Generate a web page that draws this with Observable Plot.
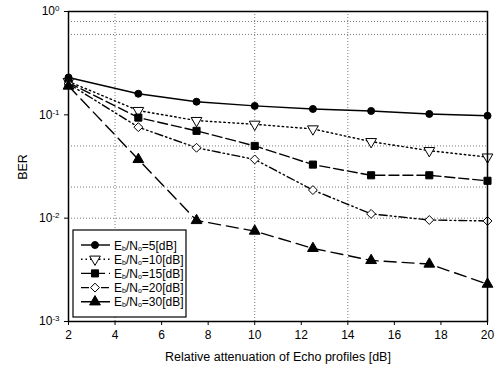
<!DOCTYPE html>
<html><head><meta charset="utf-8">
<script src="https://cdn.jsdelivr.net/npm/d3@7"></script>
<script src="https://cdn.jsdelivr.net/npm/@observablehq/plot@0.6"></script>
<style>body{margin:0;background:#fff;font-family:"Liberation Sans",Arial,sans-serif}</style>
</head><body><div id="chart"></div>
<script>
const atten = [2, 5, 7.5, 10, 12.5, 15, 17.5, 20];
const ber5  = [0.23, 0.16, 0.134, 0.122, 0.114, 0.109, 0.102, 0.098];
const ber10 = [0.21, 0.11, 0.088, 0.081, 0.073, 0.055, 0.045, 0.039];
const ber15 = [0.205, 0.094, 0.070, 0.050, 0.033, 0.026, 0.026, 0.023];
const ber20 = [0.2, 0.076, 0.048, 0.037, 0.0187, 0.011, 0.0096, 0.0094];
const ber30 = [0.19, 0.037, 0.0095, 0.0075, 0.0051, 0.0039, 0.0036, 0.0023];
const seriesNames = ["5", "10", "15", "20", "30"];
const xTicks = [2, 4, 6, 8, 10, 12, 14, 16, 18, 20];
const yTicks = [1e-3, 1e-2, 1e-1, 1];
const gridY = [0.8, 0.6, 0.05, 0.02, 0.01];
const gridX = [4, 10, 14];

const styles = {
  "5":  {dash: null, symbol: "circle", fill: "black", rotate: 0},
  "10": {dash: "1.5,3", symbol: "triangle", fill: "white", rotate: 180},
  "15": {dash: "10,4", symbol: "square", fill: "black", rotate: 0},
  "20": {dash: "8,3,1.5,3,1.5,3", symbol: "diamond2", fill: "white", rotate: 0},
  "30": {dash: "12,6", symbol: "triangle", fill: "black", rotate: 0}
};
const allSeries = [ber5, ber10, ber15, ber20, ber30];
const data = seriesNames.map((s, i) => atten.map((x, j) => ({x, y: allSeries[i][j], s})));

const marks = [
  Plot.ruleY(gridY, {stroke: "#555", strokeWidth: 0.8, strokeDasharray: "1,2"}),
  Plot.ruleX(gridX, {stroke: "#555", strokeWidth: 0.8, strokeDasharray: "1,2"})
];
seriesNames.forEach((s, i) => {
  const st = styles[s];
  marks.push(Plot.line(data[i], {x: "x", y: "y", stroke: "black", strokeWidth: 1.4, strokeDasharray: st.dash}));
});
seriesNames.forEach((s, i) => {
  const st = styles[s];
  const sym = st.symbol;
  marks.push(Plot.dot(data[i], {x: "x", y: "y", symbol: () => sym, r: sym === "circle" ? 3.5 : 4, fill: st.fill, stroke: "black", strokeWidth: 1, rotate: st.rotate}));
});
marks.push(Plot.frame({stroke: "black", strokeWidth: 1.5}));
marks.push(Plot.axisX({ticks: xTicks, tickSize: 4, tickFormat: d => String(d), label: null, fontSize: 12}));
marks.push(Plot.axisY({ticks: yTicks, tickSize: 4, tickFormat: d => "10|" + Math.round(Math.log10(d)), label: null, fontSize: 12}));

const plot = Plot.plot({
  width: 500, height: 372,
  marginLeft: 68, marginRight: 13, marginTop: 11, marginBottom: 51,
  style: {fontFamily: "Liberation Sans, Arial, sans-serif", fontSize: "12px", color: "black"},
  x: {domain: [2, 20]},
  y: {type: "log", domain: [1e-3, 1]},
  symbol: {type: "identity"},
  marks
});
document.getElementById("chart").appendChild(plot);

const svg = d3.select(plot);
// superscripts on y tick labels
svg.selectAll("text").each(function() {
  const t = d3.select(this);
  const s = t.text();
  if (s.startsWith("10|")) {
    const e = s.split("|")[1];
    t.text("10");
    t.append("tspan").attr("dy", "-0.5em").attr("font-size", "8px").text(e);
  }
});
// axis titles
svg.append("text").attr("x", 278).attr("y", 361).attr("text-anchor", "middle")
  .attr("font-size", "12.5px").attr("fill", "black").text("Relative attenuation of Echo profiles [dB]");
svg.append("text").attr("transform", "translate(27,167) rotate(-90)").attr("text-anchor", "middle")
  .attr("font-size", "12.5px").attr("fill", "black").text("BER");

// legend
const lg = svg.append("g").attr("text-anchor", "start");
lg.append("rect").attr("x", 73).attr("y", 230).attr("width", 113).attr("height", 87)
  .attr("fill", "white").attr("stroke", "black").attr("stroke-width", 1.2);
seriesNames.forEach((s, i) => {
  const st = styles[s];
  const y = 245 + i * 14.2;
  lg.append("line").attr("x1", 81).attr("x2", 110).attr("y1", y).attr("y2", y)
    .attr("stroke", "black").attr("stroke-width", 1.4).attr("stroke-dasharray", st.dash);
  const symMap = {circle: d3.symbolCircle, triangle: d3.symbolTriangle, square: d3.symbolSquare, diamond2: d3.symbolDiamond2};
  const r = st.symbol === "circle" ? 3.5 : 4;
  lg.append("path").attr("d", d3.symbol(symMap[st.symbol], Math.PI * r * r)())
    .attr("transform", `translate(95,${y}) rotate(${st.rotate})`)
    .attr("fill", st.fill).attr("stroke", "black");
  const t = lg.append("text").attr("x", 114).attr("y", y + 4.5).attr("text-anchor", "start")
    .attr("font-size", "12px").attr("fill", "black");
  t.append("tspan").text("E");
  t.append("tspan").attr("font-size", "7px").attr("dy", "1").text("b");
  t.append("tspan").attr("dy", "-1").text("/N");
  t.append("tspan").attr("font-size", "7px").attr("dy", "1").text("o");
  t.append("tspan").attr("dy", "-1").text("=" + s + "[dB]");
});
</script></body></html>
